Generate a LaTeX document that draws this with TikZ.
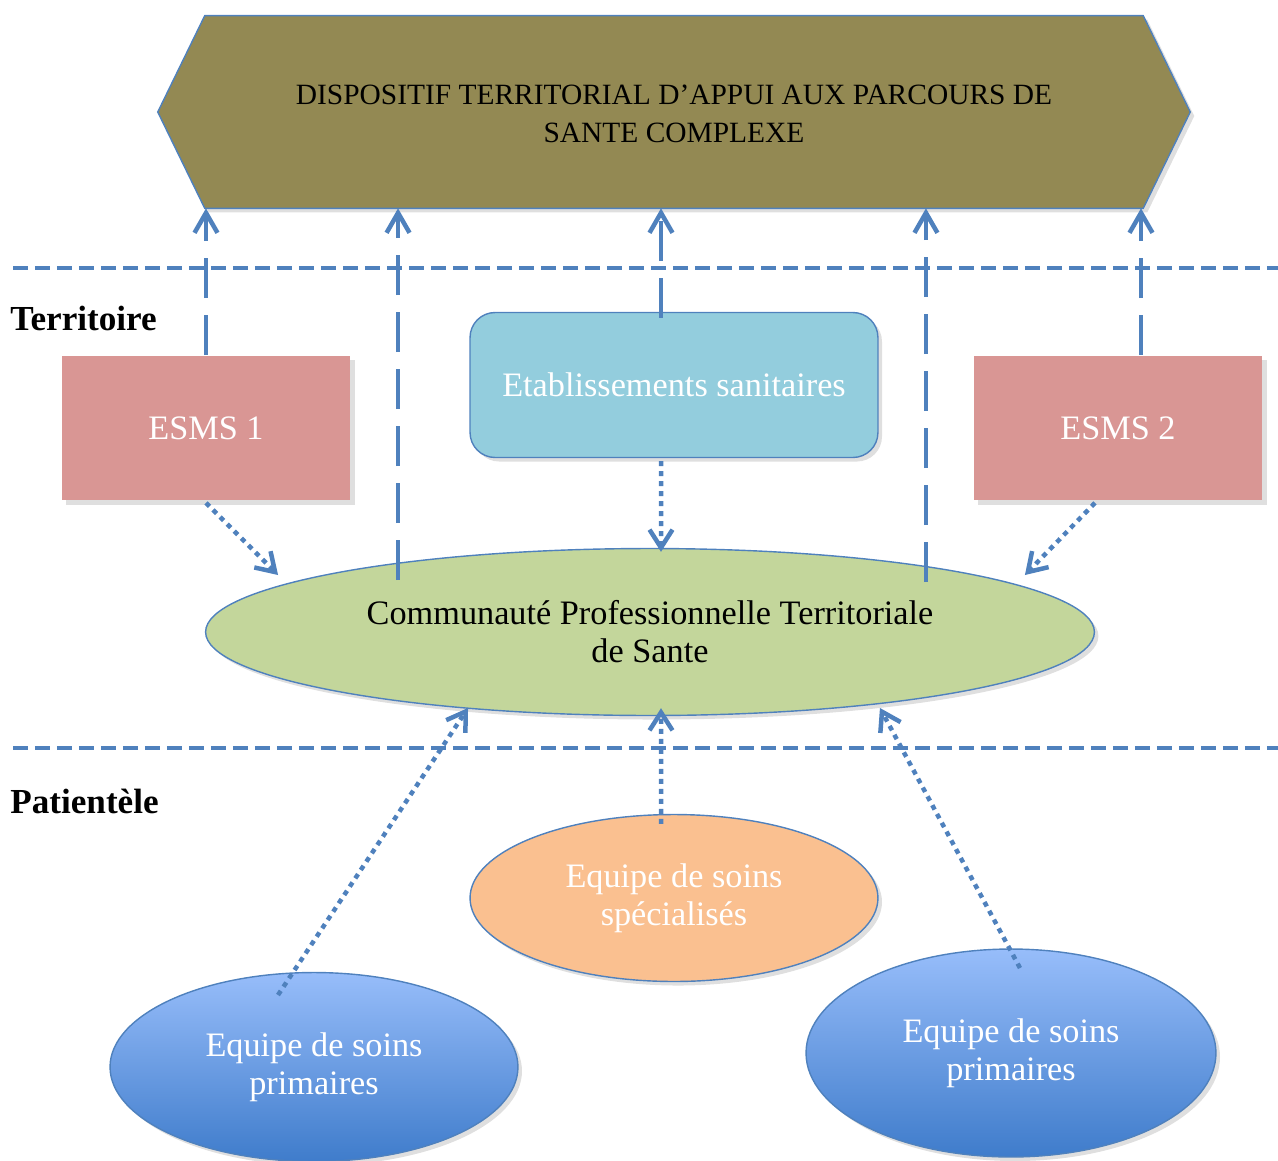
\documentclass[tikz,border=0pt]{standalone}
\usepackage{fontspec}
\setmainfont{Liberation Serif}
\usetikzlibrary{arrows.meta,shadows,shapes.geometric}

\definecolor{lineblue}{HTML}{4F81BD}
\definecolor{olive}{HTML}{938953}
\definecolor{esmsred}{HTML}{D99694}
\definecolor{etabblue}{HTML}{93CDDD}
\definecolor{cptsgreen}{HTML}{C3D69B}
\definecolor{specorange}{HTML}{FAC090}
\definecolor{primtop}{HTML}{97BDFA}
\definecolor{primbot}{HTML}{3F7CCB}

\begin{document}
\begin{tikzpicture}[x=0.02cm, y=-0.02cm,
    txt/.style={font=\fontsize{19.5}{21.6}\selectfont, align=center},
    esmsbox/.style={txt, rectangle, fill=esmsred, text=white, minimum width=5.78cm, minimum height=2.9cm, drop shadow={opacity=0.25}},
    ellipsenode/.style={txt, ellipse, draw=lineblue, thick, inner sep=0pt, drop shadow={opacity=0.25}},
    sectionline/.style={lineblue, line width=0.09cm, dash pattern=on 0.3cm off 0.14cm},
    uparrow/.style={lineblue, line width=0.09cm, dash pattern=on 0.8cm off 0.34cm, -{Straight Barb[length=0.4cm,width=0.46cm]}},
    dotarrow/.style={lineblue, line width=0.09cm, dash pattern=on 0.1cm off 0.1cm, -{Straight Barb[length=0.36cm,width=0.46cm]}}
    ]
    \useasboundingbox (0,0) rectangle (1278,1160);

    % top block
    \node (dispo) [minimum width=18.76cm, minimum height=3.84cm] at (674,112) {};
    \filldraw [fill=olive, draw=lineblue, thick, drop shadow={opacity=0.25}]
        (dispo.north west) -- (dispo.north east) -- ([xshift=0.94cm]dispo.east)
        -- (dispo.south east) -- (dispo.south west) -- ([xshift=-0.94cm]dispo.west) -- cycle;
    \node (dispotext) [txt, font=\fontsize{16.75}{21.6}\selectfont] at ([yshift=-0.04cm]dispo.center)
        {DISPOSITIF TERRITORIAL D'APPUI AUX PARCOURS DE\\SANTE COMPLEXE};

    % section lines
    \coordinate (terra) at (13,268);
    \coordinate (terrb) at (1278,268);
    \coordinate (pata) at (13,748);
    \coordinate (patb) at (1278,748);
    \draw [sectionline] (terra) -- (terrb);
    \draw [sectionline] (pata) -- (patb);
    \node (terr) [anchor=base west, font=\fontsize{20}{22}\selectfont\bfseries, inner sep=0pt] at (10,330) {Territoire};
    \node (pat) [anchor=base west, font=\fontsize{20}{22}\selectfont\bfseries, inner sep=0pt] at (10,813) {Patientèle};

    % territoire
    \node [esmsbox] (esms1) at (206,428) {ESMS 1};
    \node [esmsbox] (esms2) at (1118,428) {ESMS 2};
    \node [txt, rectangle, rounded corners=0.5cm, draw=lineblue, thick, fill=etabblue, text=white,
           minimum width=8.16cm, minimum height=2.9cm, drop shadow={opacity=0.25}] (etab) at (674,385) {Etablissements sanitaires};
    \node [ellipsenode, fill=cptsgreen, minimum width=17.78cm, minimum height=3.34cm] (cpts) at (650,632)
        {Communauté Professionnelle Territoriale\\de Sante};

    % patientele
    \node [ellipsenode, fill=specorange, text=white, minimum width=8.16cm, minimum height=3.34cm] (spec) at (674,898)
        {Equipe de soins\\spécialisés};
    \node [ellipsenode, top color=primtop, bottom color=primbot, text=white, minimum width=8.16cm, minimum height=3.78cm] (prim1) at (314,1067)
        {Equipe de soins\\primaires};
    \node [ellipsenode, top color=primtop, bottom color=primbot, text=white, minimum width=8.2cm, minimum height=4.16cm] (prim2) at (1011,1053)
        {Equipe de soins\\primaires};

    % up to the dispositif
    \draw [uparrow] (esms1.north) -- (esms1.north |- dispo.south);
    \draw [uparrow] ([xshift=-5.04cm,yshift=1.04cm]cpts.center) -- ([xshift=-5.04cm]cpts.center |- dispo.south);
    \draw [uparrow] ([xshift=-0.26cm,yshift=-0.12cm]etab.north) -- ([xshift=-0.26cm]etab.north |- dispo.south);
    \draw [uparrow] ([xshift=5.52cm,yshift=1.0cm]cpts.center) -- ([xshift=5.52cm]cpts.center |- dispo.south);
    \draw [uparrow] ([xshift=0.46cm]esms2.north) -- ([xshift=0.46cm]esms2.north |- dispo.south);

    % into the CPTS
    \draw [dotarrow] ([yshift=-0.04cm]esms1.south) -- ([xshift=-7.44cm,yshift=1.14cm]cpts.center);
    \draw [dotarrow] ([xshift=-0.26cm,yshift=-0.06cm]etab.south) -- ([xshift=0.22cm,yshift=-0.08cm]cpts.north);
    \draw [dotarrow] ([xshift=-0.46cm,yshift=-0.04cm]esms2.south) -- ([xshift=7.5cm,yshift=1.14cm]cpts.center);
    \draw [dotarrow] ([xshift=-0.72cm,yshift=1.44cm]prim1.center) -- ([xshift=-3.64cm,yshift=-1.52cm]cpts.center);
    \draw [dotarrow] ([xshift=-0.26cm,yshift=-0.2cm]spec.north) -- ([xshift=0.22cm,yshift=0.16cm]cpts.south);
    \draw [dotarrow] ([xshift=0.18cm,yshift=1.7cm]prim2.center) -- ([xshift=4.6cm,yshift=-1.52cm]cpts.center);
\end{tikzpicture}
\end{document}
